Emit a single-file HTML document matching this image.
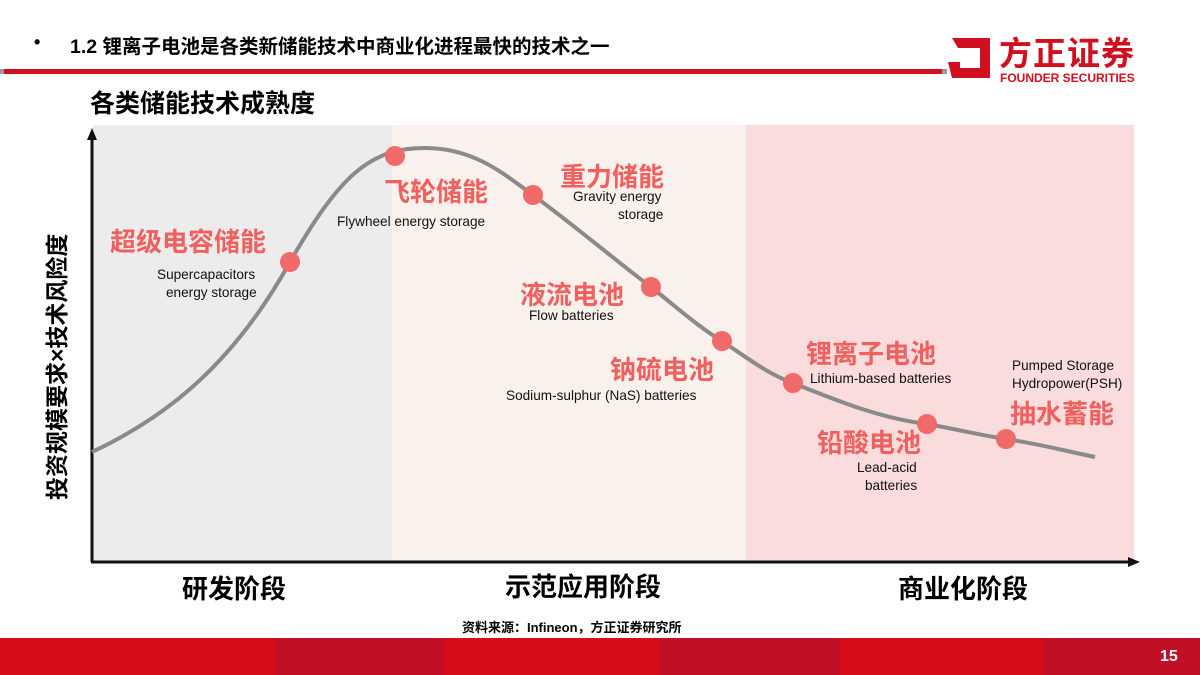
<!DOCTYPE html>
<html><head><meta charset="utf-8"><style>
body{margin:0;width:1200px;height:675px;position:relative;background:#fff;font-family:"Liberation Sans","Noto Sans CJK SC",sans-serif;overflow:hidden}
.a{position:absolute;white-space:nowrap}
.r{color:#f0605f;font-weight:bold;font-size:26px}
.e{font-size:13.6px;color:#111}
</style></head><body>
<div class="a" style="left:34px;top:32px;font-size:18px;font-weight:bold">•</div>
<div class="a" style="left:70px;top:30px;font-size:19.5px;font-weight:bold">1.2 锂离子电池是各类新储能技术中商业化进程最快的技术之一</div>
<div class="a" style="left:0;top:69px;width:945px;height:5px;background:#d0101e"></div>
<div class="a" style="left:0;top:69px;width:4px;height:5px;background:#999"></div>
<div class="a" style="left:942px;top:69px;width:5px;height:5px;background:#999"></div>
<svg class="a" style="left:944px;top:34px" width="50" height="48"><polygon points="8,4 46,4 46,44 8,44 4,28 16,28 16,34 36,34 36,14 14,14" fill="#d0101e"/></svg>
<div class="a" style="left:999px;top:27px;font-size:33px;font-weight:bold;color:#d0101e;letter-spacing:1px">方正证券</div>
<div class="a" style="left:1000px;top:71px;font-size:12px;font-weight:bold;color:#d0101e">FOUNDER SECURITIES</div>
<div class="a" style="left:90px;top:84px;font-size:25px;font-weight:bold">各类储能技术成熟度</div>
<div class="a" style="left:93px;top:125px;width:299px;height:436px;background:#ececec"></div>
<div class="a" style="left:392px;top:125px;width:354px;height:436px;background:#fbf1ec"></div>
<div class="a" style="left:746px;top:125px;width:388px;height:436px;background:#fadcdc"></div>
<svg class="a" style="left:0;top:0" width="1200" height="675">
<line x1="92" y1="137" x2="92" y2="562" stroke="#111" stroke-width="3"/>
<polygon points="92,128 87,140 97,140" fill="#111"/>
<line x1="91" y1="562" x2="1132" y2="562" stroke="#111" stroke-width="3"/>
<polygon points="1140,562 1128,557 1128,567" fill="#111"/>
<path d="M92,452 C160,420 230,370 290,262 C340,175 370,148 425,148 C475,148 505,175 533,195 C580,230 615,260 651,287 C680,310 700,328 722,341 C750,360 770,375 793,383 C840,402 880,418 927,424 C960,430 985,436 1006,439 C1040,444 1070,452 1095,457" fill="none" stroke="#8a8a8a" stroke-width="4"/>
<g fill="#f06a6a"><circle cx="290" cy="262" r="10"/><circle cx="395" cy="156" r="10"/><circle cx="533" cy="195" r="10"/><circle cx="651" cy="287" r="10"/><circle cx="722" cy="341" r="10"/><circle cx="793" cy="383" r="10"/><circle cx="927" cy="424" r="10"/><circle cx="1006" cy="439" r="10"/></g>
</svg>
<div class="a" style="left:38px;top:500px;transform:rotate(-90deg);transform-origin:0 0;font-size:23px;font-weight:bold">投资规模要求×技术风险度</div>
<div class="a r" style="left:110px;top:222px">超级电容储能</div>
<div class="a e" style="left:157px;top:267px">Supercapacitors</div>
<div class="a e" style="left:166px;top:285px">energy storage</div>
<div class="a r" style="left:384px;top:172px">飞轮储能</div>
<div class="a e" style="left:337px;top:214px">Flywheel energy storage</div>
<div class="a r" style="left:560px;top:157px">重力储能</div>
<div class="a e" style="left:573px;top:189px">Gravity energy</div>
<div class="a e" style="left:618px;top:207px">storage</div>
<div class="a r" style="left:520px;top:275px">液流电池</div>
<div class="a e" style="left:529px;top:308px">Flow batteries</div>
<div class="a r" style="left:610px;top:350px">钠硫电池</div>
<div class="a e" style="left:506px;top:388px">Sodium-sulphur (NaS) batteries</div>
<div class="a r" style="left:806px;top:334px">锂离子电池</div>
<div class="a e" style="left:810px;top:371px">Lithium-based batteries</div>
<div class="a e" style="left:1012px;top:358px">Pumped Storage</div>
<div class="a e" style="left:1012px;top:376px">Hydropower(PSH)</div>
<div class="a r" style="left:1010px;top:394px">抽水蓄能</div>
<div class="a r" style="left:817px;top:423px">铅酸电池</div>
<div class="a e" style="left:857px;top:460px">Lead-acid</div>
<div class="a e" style="left:865px;top:478px">batteries</div>
<div class="a" style="left:182px;top:569px;font-size:26px;font-weight:bold">研发阶段</div>
<div class="a" style="left:505px;top:567px;font-size:26px;font-weight:bold">示范应用阶段</div>
<div class="a" style="left:898px;top:569px;font-size:26px;font-weight:bold">商业化阶段</div>
<div class="a" style="left:462px;top:617px;font-size:13px;font-weight:bold">资料来源：Infineon，方正证券研究所</div>
<div class="a" style="left:0;top:638px;width:1200px;height:37px;background:linear-gradient(90deg,#d70c1a 0%,#d70c1a 23%,#c10f25 23%,#c10f25 37%,#d70c1a 37%,#d70c1a 55%,#c10f25 55%,#c10f25 70%,#d70c1a 70%,#d70c1a 87%,#c10f25 87%)"></div>
<div class="a" style="left:1160px;top:648px;font-size:16px;font-weight:bold;color:#fff">15</div>
</body></html>
